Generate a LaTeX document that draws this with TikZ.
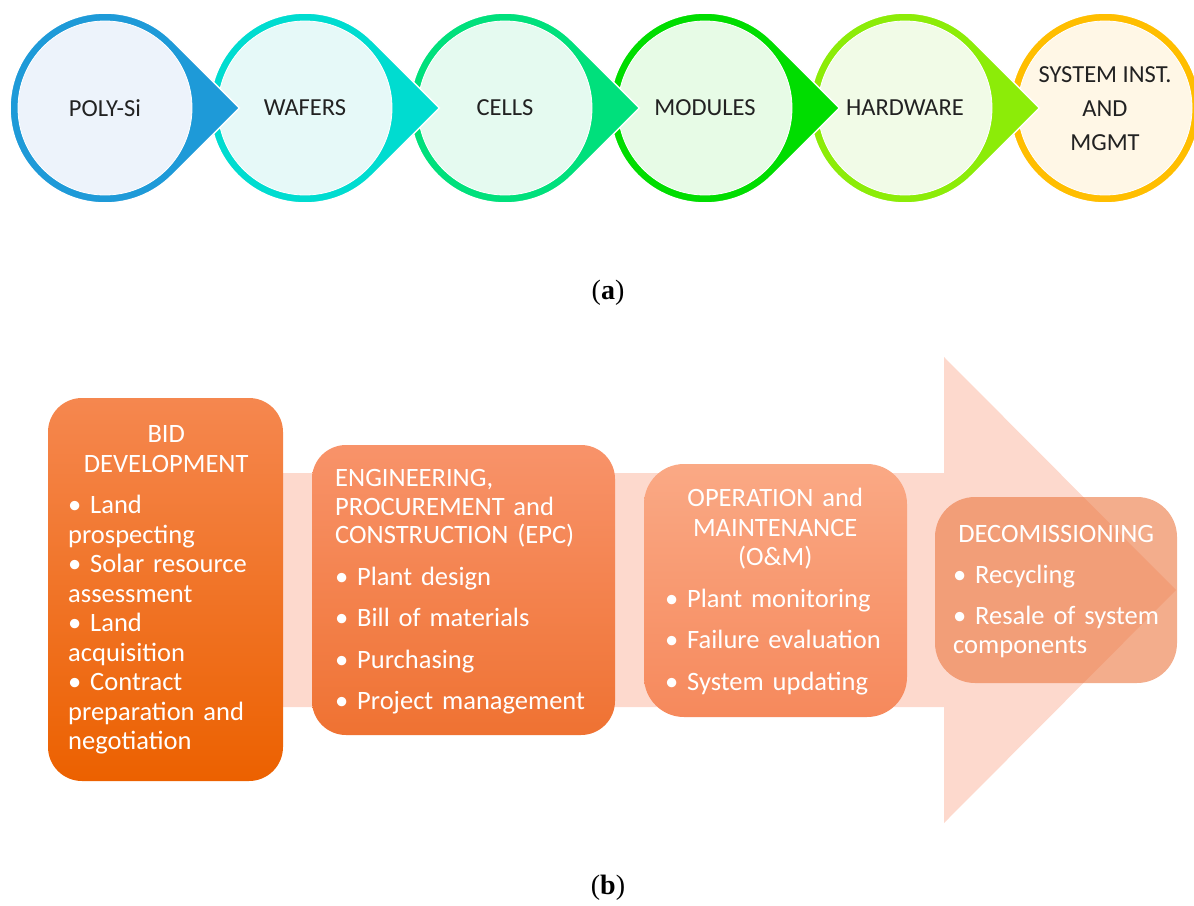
\documentclass[tikz,border=0pt]{standalone}
\usepackage{fontspec}
\setmainfont{Carlito}
\newfontfamily\capfont{Liberation Serif}
\definecolor{labelgray}{HTML}{222222}
\definecolor{ringA}{HTML}{1E9AD8}\definecolor{fillA}{HTML}{EDF3FB}
\definecolor{ringB}{HTML}{00DCD0}\definecolor{fillB}{HTML}{E6F9F8}
\definecolor{ringC}{HTML}{00E07C}\definecolor{fillC}{HTML}{E5FAF0}
\definecolor{ringD}{HTML}{00DD00}\definecolor{fillD}{HTML}{E7FBE6}
\definecolor{ringE}{HTML}{8CEC08}\definecolor{fillE}{HTML}{F1FBE7}
\definecolor{ringF}{HTML}{FFBE00}\definecolor{fillF}{HTML}{FFF7E6}
\definecolor{arrowpink}{HTML}{FDD9CD}
\definecolor{bidtop}{HTML}{F5874F}\definecolor{bidbot}{HTML}{EC6100}
\definecolor{epctop}{HTML}{F8936A}\definecolor{epcbot}{HTML}{EF7232}
\definecolor{omtop}{HTML}{FAA985}\definecolor{ombot}{HTML}{F6895C}
\definecolor{decfill}{HTML}{EC7A45}
\newcommand\teardrop[3]{%
  \begin{scope}[shift={(#1,108)}]
    \filldraw[fill=#2, draw=white, line width=1.5pt]
      (45:95pt) arc[start angle=45, end angle=315, radius=95pt] -- (134.4pt,0pt) -- cycle;
    \filldraw[fill=#3, draw=white, line width=0.8pt] (0pt,0pt) circle[radius=87pt];
  \end{scope}}
\begin{document}
\begin{tikzpicture}[x=1pt,y=-1pt]
\useasboundingbox (0,0) rectangle (1194,905);
\tikzset{
  toplabel/.style={font=\fontsize{24.5}{34}\selectfont, text=labelgray, align=center},
  boxtext/.style={font=\fontsize{26.5}{29.5}\selectfont, text=white, anchor=west, align=left, inner sep=0pt},
  stagebox/.style={draw=none, inner sep=0pt, rounded corners=34pt},
  caption/.style={font=\capfont\fontsize{28}{32}\selectfont, text=black}
}
% ---------- (a) value chain ----------
\begin{scope}[shift={(1105,108)}]
  \filldraw[fill=ringF, draw=white, line width=1.5pt] (0pt,0pt) circle[radius=95pt];
  \filldraw[fill=fillF, draw=white, line width=0.8pt] (0pt,0pt) circle[radius=87pt];
\end{scope}
\teardrop{905}{ringE}{fillE}
\teardrop{705}{ringD}{fillD}
\teardrop{505}{ringC}{fillC}
\teardrop{305}{ringB}{fillB}
\teardrop{105}{ringA}{fillA}
\node[toplabel] (polysi) at (105,108) {POLY-Si};
\node[toplabel] (wafers) at (305,108) {WAFERS};
\node[toplabel] (cells) at (505,108) {CELLS};
\node[toplabel] (modules) at (705,108) {MODULES};
\node[toplabel] (hardware) at (905,108) {HARDWARE};
\node[toplabel] (system) at (1105,109) {SYSTEM INST.\\AND\\MGMT};
\node[caption] (capa) at (608,293) {(\textbf{a})};
% ---------- (b) project phases ----------
\fill[arrowpink] (48,473) -- (944,473) -- (944,357) -- (1176,590) -- (944,823) -- (944,707) -- (48,707) -- cycle;
\node[stagebox, top color=bidtop, bottom color=bidbot, minimum width=235pt, minimum height=383pt] (bid) at (165.5,589.5) {};
\node[stagebox, top color=epctop, bottom color=epcbot, minimum width=303pt, minimum height=290pt] (epc) at (463.5,590) {};
\node[stagebox, rounded corners=40pt, top color=omtop, bottom color=ombot, minimum width=263pt, minimum height=253pt] (om) at (775.5,590.5) {};
\node[stagebox, rounded corners=40pt, fill=decfill, fill opacity=0.62, minimum width=242pt, minimum height=186pt] (dec) at (1056,590) {};
\node[boxtext, text width=196pt] (bidtext) at (68,590) {%
  {\centering BID\\DEVELOPMENT\par}\vspace{12pt}%
  \raggedright\textbullet\ Land\\prospecting\\\textbullet\ Solar resource\\assessment\\\textbullet\ Land\\acquisition\\\textbullet\ Contract\\preparation and\\negotiation};
\node[boxtext, text width=265pt] (epctext) at (335,592) {%
  {\fontsize{26.5}{28.5}\selectfont ENGINEERING,\\PROCUREMENT and\\CONSTRUCTION (EPC)\par}\vspace{12pt}%
  \textbullet\ Plant design\par\vspace{12pt}%
  \textbullet\ Bill of materials\par\vspace{12pt}%
  \textbullet\ Purchasing\par\vspace{12pt}%
  \textbullet\ Project management};
\node[boxtext, text width=220pt] (omtext) at (665,591.5) {%
  {\centering OPERATION and\\MAINTENANCE\\(O\&M)\par}\vspace{12pt}%
  \raggedright\textbullet\ Plant monitoring\par\vspace{12pt}%
  \textbullet\ Failure evaluation\par\vspace{12pt}%
  \textbullet\ System updating};
\node[boxtext, text width=206pt] (dectext) at (953,591.5) {%
  {\centering DECOMISSIONING\par}\vspace{12pt}%
  \raggedright\textbullet\ Recycling\par\vspace{11pt}%
  \textbullet\ Resale of system\\components};
\node[caption] (capb) at (608,888) {(\textbf{b})};
\end{tikzpicture}
\end{document}
